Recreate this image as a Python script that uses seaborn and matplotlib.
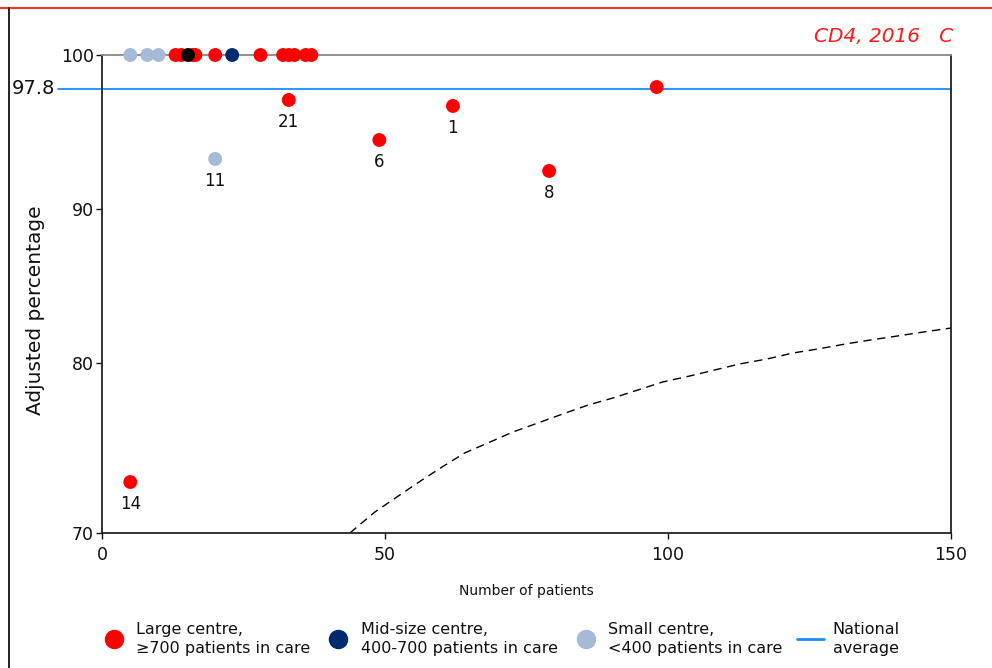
import matplotlib
matplotlib.use("Agg")
import matplotlib.pyplot as plt
from matplotlib.lines import Line2D
import seaborn as sns
import pandas as pd

# ---- data ----
large_x = [13, 14, 16, 16.5, 20, 28, 32, 33, 34, 36, 37, 33, 49, 62, 79, 98, 5]
large_y = [100, 100, 100, 100, 100, 100, 100, 100, 100, 100, 100, 97.08, 94.48, 96.69, 92.47, 97.92, 72.27]
large_lab = ["", "", "", "", "", "", "", "", "", "", "", "21", "6", "1", "8", "", "14"]

mid_x = [23]
mid_y = [100]
mid_lab = [""]

small_x = [5, 8, 10, 20]
small_y = [100, 100, 100, 93.25]
small_lab = ["", "", "", "11"]

centre_x = [15.2]
centre_y = [100]

national_avg = 97.8

limit_x = [43.8, 48.2, 52.1, 56.0, 60.1, 64.1, 68.2, 72.6, 77.0, 81.4, 85.9, 90.3, 94.7,
           99.1, 103.9, 108.3, 112.7, 117.5, 122.1, 126.5, 131.3, 135.7, 140.5, 145.1, 150]
limit_y = [68.96, 70.32, 71.30, 72.27, 73.25, 74.16, 74.81, 75.52, 76.10, 76.69, 77.27, 77.73, 78.25,
           78.77, 79.16, 79.55, 79.94, 80.26, 80.65, 80.91, 81.23, 81.49, 81.75, 82.01, 82.27]

y_ticks = [68.96, 80, 90, 100]
y_tick_labels = ["70", "80", "90", "100"]
x_ticks = [0, 50, 100, 150]

cat_large = "Large centre,\n\u2265700 patients in care"
cat_mid = "Mid-size centre,\n400-700 patients in care"
cat_small = "Small centre,\n<400 patients in care"

palette = {cat_large: "#ff0000", cat_mid: "#002a6e", cat_small: "#a6b9d6"}

df = pd.DataFrame({
    "x": large_x + mid_x + small_x,
    "y": large_y + mid_y + small_y,
    "label": large_lab + mid_lab + small_lab,
    "cat": [cat_large] * len(large_x) + [cat_mid] * len(mid_x) + [cat_small] * len(small_x),
})
lim_df = pd.DataFrame({"x": limit_x, "y": limit_y})

sns.set_theme(style="white")
plt.rcParams["font.family"] = ["DejaVu Sans"]

fig = plt.figure(figsize=(9.92, 6.68), dpi=100)
ax = fig.add_axes([102 / 992, 1 - 533 / 668, (951 - 102) / 992, (533 - 55) / 668])

# limit curve
sns.lineplot(data=lim_df, x="x", y="y", ax=ax, color="black", lw=1.0,
             linestyle=(0, (6, 4)), zorder=2)

# national average
ax.axhline(national_avg, xmin=-(102 - 58) / 849, xmax=1, color="#1a8cff",
           lw=1.3, clip_on=False, zorder=1)

# points
for cat in [cat_small, cat_large, cat_mid]:
    sub = df[df["cat"] == cat]
    sns.scatterplot(data=sub, x="x", y="y", color=palette[cat], s=100,
                    edgecolor="none", ax=ax, clip_on=False, zorder=4, legend=False)
sns.scatterplot(x=centre_x, y=centre_y, color="black", s=100, edgecolor="none",
                ax=ax, clip_on=False, zorder=5, legend=False)

for _, r in df.iterrows():
    if r["label"]:
        ax.annotate(r["label"], (r["x"], r["y"]), xytext=(0, -16), textcoords="offset points",
                    ha="center", va="center", fontsize=12, color="#111111")

ax.set_xlim(0, 150)
ax.set_ylim(y_ticks[0], 100)
ax.set_xticks(x_ticks)
ax.set_yticks(y_ticks)
ax.set_yticklabels(y_tick_labels)
ax.tick_params(axis="both", which="major", labelsize=12.5, length=4, width=1,
               colors="#111111", direction="out", bottom=True, left=True, pad=2)
ax.tick_params(axis="x", pad=5.5)
ax.set_xlabel("Number of patients", fontsize=10, color="#111111")
ax.xaxis.set_label_coords(0.5, -(584 - 533) / 478)
ax.set_ylabel("Adjusted percentage", fontsize=14.5, color="#111111")
ax.yaxis.set_label_coords(-(102 - 45) / 849, (533 - 310) / 478)

for side in ["left", "bottom", "right"]:
    ax.spines[side].set_color("#222222")
    ax.spines[side].set_linewidth(1.3)
ax.spines["top"].set_color("#888888")
ax.spines["top"].set_linewidth(1.3)

# 97.8 label
ax.text(-(102 - 55) / 849, national_avg, "97.8", transform=ax.get_yaxis_transform(),
        ha="right", va="center", fontsize=14, color="#111111")

# title
fig.text(953 / 992, 1 - 36 / 668, "CD4, 2016   C", ha="right", va="center",
         fontsize=14.5, style="italic", color="#ff1a1a")

# decorative frame lines
fig.add_artist(Line2D([0, 1], [1 - 7.5 / 668, 1 - 7.5 / 668], color="#ff3333", lw=1.5))
fig.add_artist(Line2D([8.5 / 992, 8.5 / 992], [0, 1 - 7.5 / 668], color="#111111", lw=1.3))

handles = [
    Line2D([], [], marker="o", ls="none", color=palette[cat_large], markersize=13),
    Line2D([], [], marker="o", ls="none", color=palette[cat_mid], markersize=13),
    Line2D([], [], marker="o", ls="none", color=palette[cat_small], markersize=13),
    Line2D([], [], color="#1a8cff", lw=2),
]
labels = [cat_large, cat_mid, cat_small, "National\naverage"]
leg = fig.legend(handles, labels, loc="center", bbox_to_anchor=(500 / 992, 1 - 639 / 668),
                 ncol=4, frameon=False, fontsize=11.5, handlelength=1.7, handletextpad=0.55,
                 columnspacing=0.9, labelcolor="#111111")
for t in leg.get_texts():
    t.set_linespacing(1.3)

fig.savefig("out.png", dpi=100)
